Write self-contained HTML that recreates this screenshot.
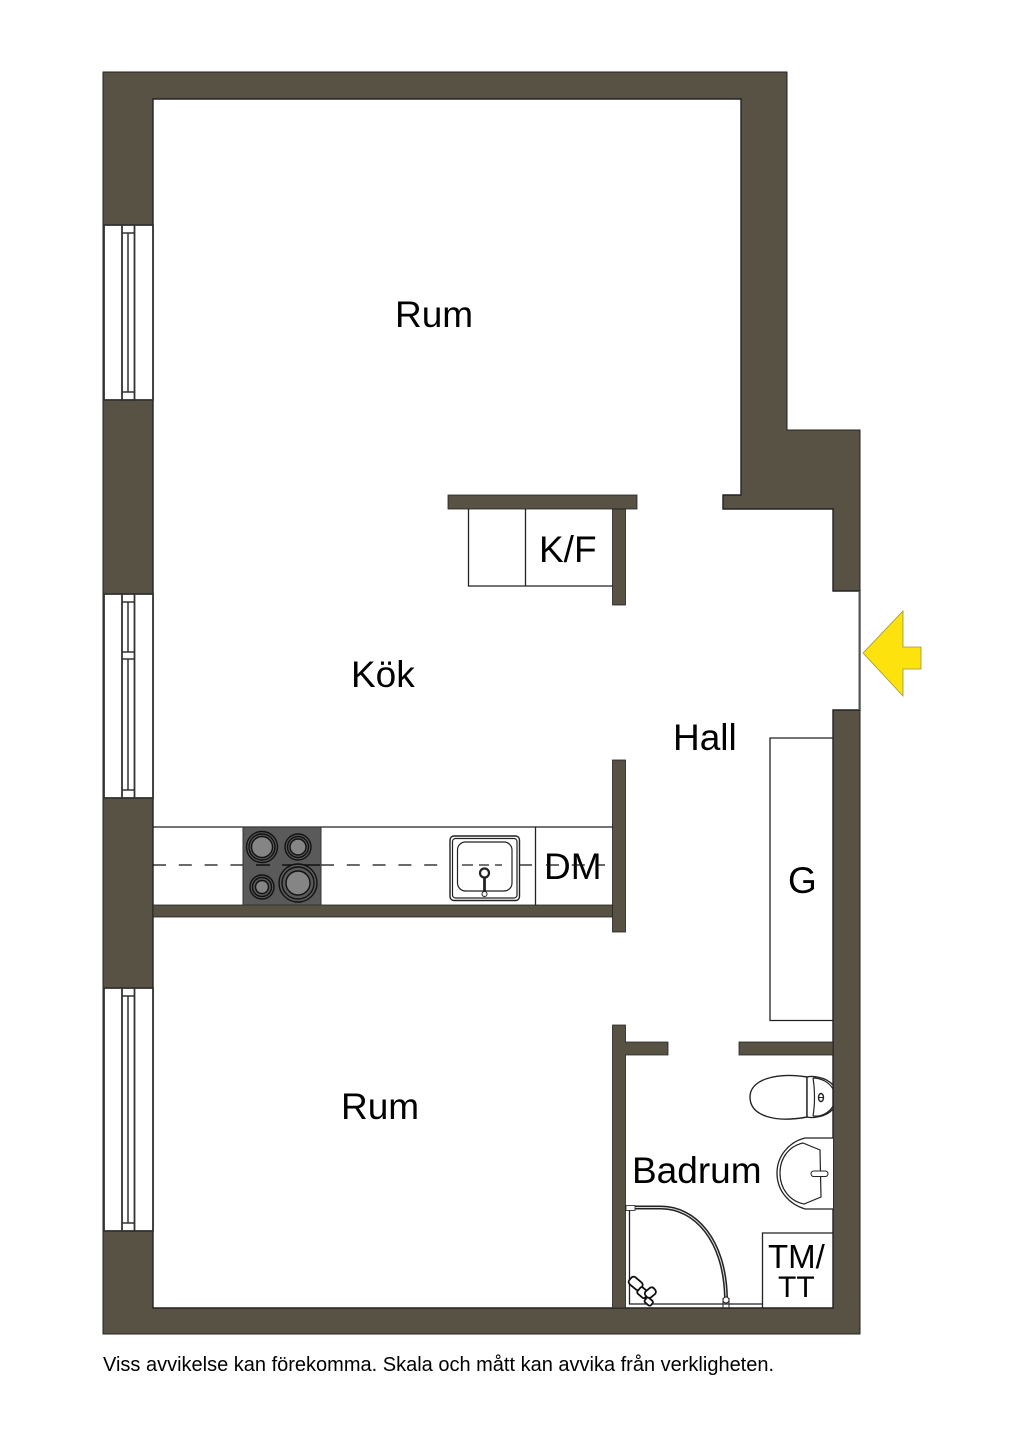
<!DOCTYPE html>
<html><head><meta charset="utf-8"><style>
html,body{margin:0;padding:0;background:#fff}
svg{display:block}
text{font-family:"Liberation Sans",sans-serif;fill:#000}
</style></head><body>
<svg width="1024" height="1448" viewBox="0 0 1024 1448" xmlns="http://www.w3.org/2000/svg">
<rect width="1024" height="1448" fill="#fff"/>
<!-- outer wall -->
<path d="M103 72H787V430H860V1334H103Z" fill="#575244" stroke="#222" stroke-width="1"/>
<!-- interior -->
<path d="M153 99H741V495H723V509H833V591H860V710H833V1308H153Z" fill="#fff" stroke="#222" stroke-width="1.400"/>
<path d="M859.500 591V710" stroke="#555" stroke-width="2"/>
<!-- inner walls -->
<g fill="#575244" stroke="#222" stroke-width="0.800">
<rect x="153" y="905" width="460" height="12"/>
<rect x="612.500" y="760" width="13" height="172"/>
<path d="M612.500 1025H625.500V1042H668V1055H625.500V1308H612.500Z"/>
<rect x="739" y="1042" width="94" height="13"/>
<rect x="448" y="495" width="189" height="14"/>
<rect x="612.500" y="509" width="13" height="96"/>
</g>
<!-- windows -->
<g fill="#fff" stroke="#333" stroke-width="1.800">
<rect x="104" y="225" width="49" height="175"/>
<rect x="104" y="594" width="49" height="204"/>
<rect x="104" y="988" width="49" height="243"/>
<rect x="122" y="225" width="12.500" height="175"/>
<rect x="122" y="594" width="12.500" height="204"/>
<rect x="122" y="988" width="12.500" height="243"/>
</g>
<g fill="none" stroke="#333" stroke-width="1.500">
<path d="M122 233H134.500M128 233V392M122 392H134.500"/>
<path d="M122 602H134.500M128 602V652M122 652H134.500M122 659H134.500M128 659V790M122 790H134.500"/>
<path d="M122 996H134.500M128 996V1223M122 1223H134.500"/>
</g>
<!-- kitchen counter -->
<g fill="none" stroke="#222" stroke-width="1.300">
<path d="M153 827H612.500"/>
<path d="M535.500 827V905"/>
<path d="M468.500 509V586H612.500M525.500 509V586"/>
<path d="M833 738H770V1020.500H833"/>
<path d="M762.500 1308V1233H833"/>
</g>
<path d="M153 865H243M321 865H450M519 865H535.500" fill="none" stroke="#111" stroke-width="1.300" stroke-dasharray="13 12.800"/>
<!-- hob -->
<rect x="243" y="827" width="78" height="78" fill="#5a5a5a" stroke="#333"/>
<path d="M256 865H270M282 865H320" stroke="#111" stroke-width="1.400"/>
<g stroke="#111" stroke-width="1.400">
<circle cx="262" cy="847" r="15.500" fill="#5a5a5a"/><circle cx="262" cy="847" r="13" fill="#5a5a5a"/><circle cx="262" cy="847" r="10.500" fill="#858585"/>
<circle cx="298" cy="847" r="13" fill="#5a5a5a"/><circle cx="298" cy="847" r="10.500" fill="#5a5a5a"/><circle cx="298" cy="847" r="8" fill="#858585"/>
<circle cx="262" cy="887" r="12" fill="#5a5a5a"/><circle cx="262" cy="887" r="9.500" fill="#5a5a5a"/><circle cx="262" cy="887" r="6.500" fill="#858585"/>
<circle cx="298" cy="883" r="19" fill="#5a5a5a"/><circle cx="298" cy="883" r="16" fill="#5a5a5a"/><circle cx="298" cy="883" r="12" fill="#858585"/>
</g>
<!-- sink -->
<rect x="450" y="836" width="69.500" height="64.500" rx="4" fill="#fff" stroke="#222" stroke-width="1.400"/>
<rect x="452.500" y="838.500" width="64.500" height="59.500" rx="3" fill="#fff" stroke="#222" stroke-width="1.200"/>
<rect x="457.500" y="842" width="54.500" height="49" rx="8" fill="none" stroke="#222" stroke-width="1.200"/>
<path d="M462 865H473M479 865H489M495 865H502" stroke="#222" stroke-width="1.300"/>
<path d="M484.500 875V892" stroke="#222" stroke-width="2.800"/>
<circle cx="484.500" cy="873" r="4.500" fill="#fff" stroke="#222" stroke-width="2.200"/>
<circle cx="484.500" cy="894" r="2.500" fill="#fff" stroke="#222" stroke-width="1"/>
<!-- toilet -->
<path d="M807 1077C775 1072 750 1080 750 1097C750 1116 775 1123 807 1117Z" fill="#fff" stroke="#222" stroke-width="1.400"/>
<path d="M807 1077C811 1076 825 1076 833 1085V1109C825 1118 811 1118 807 1117Z" fill="#fff" stroke="#222" stroke-width="1.400"/>
<path d="M813 1078C815 1090 815 1105 813 1116M813 1078C821 1078 829 1082 833 1089M813 1116C821 1117 829 1113 833 1106" fill="none" stroke="#222" stroke-width="1.200"/>
<ellipse cx="821" cy="1097.500" rx="2.500" ry="4" fill="#fff" stroke="#222" stroke-width="1.400"/>
<path d="M819 1097.500H823" stroke="#222"/>
<!-- basin -->
<path d="M833 1138H805C789 1142 777 1156 777 1173C777 1191 789 1204 805 1209H833" fill="#fff" stroke="#222" stroke-width="1.300"/>
<path d="M803 1143L820 1150L821 1197L804 1204C789 1201 780 1188 780 1173C780 1158 789 1146 803 1143Z" fill="#fff" stroke="#222" stroke-width="1.200"/>
<rect x="811" y="1171" width="17" height="5.500" rx="2.700" fill="#fff" stroke="#222"/>
<!-- shower -->
<path d="M628 1207.500H660C695 1207 725 1240 726 1298" fill="none" stroke="#222" stroke-width="4"/>
<path d="M628 1207.500H660C695 1207 725 1240 726 1298" fill="none" stroke="#ddd" stroke-width="1"/>
<rect x="626" y="1205.500" width="9" height="5" fill="#fff" stroke="#222" stroke-width=".8"/>
<path d="M629.500 1210V1304H762" fill="none" stroke="#222" stroke-width="1.300"/>
<path d="M723 1298V1308M729 1298V1308" stroke="#222" fill="none"/>
<circle cx="726" cy="1300" r="3" fill="#fff" stroke="#222"/>
<g fill="#fff" stroke="#111" stroke-width="1.800">
<rect x="629" y="1279" width="14" height="9" rx="3" transform="rotate(40 636 1283)"/>
<rect x="638" y="1288" width="10" height="8" rx="2" transform="rotate(40 642 1292)"/>
<rect x="645" y="1289" width="11" height="8" rx="3" transform="rotate(-40 650 1293)"/>
<rect x="645" y="1298" width="8" height="6" rx="2" transform="rotate(40 648 1301)"/>
</g>
<!-- arrow -->
<path d="M863 653L903 611V647H921V669H903V696Z" fill="#fde20e" stroke="#9c9238" stroke-width="0.800"/>
<!-- labels -->
<g font-size="37">
<text x="395" y="327">Rum</text>
<text x="351" y="687">Kök</text>
<text x="673" y="750">Hall</text>
<text x="341" y="1119">Rum</text>
<text x="632" y="1183">Badrum</text>
<text x="539" y="562">K/F</text>
<text x="544" y="879">DM</text>
<text x="788" y="893">G</text>
</g>
<text x="768" y="1268" font-size="33">TM/</text>
<text x="778" y="1297" font-size="30">TT</text>
<path d="M546 865H605" stroke="#111" stroke-width="1.300" stroke-dasharray="13 12.800"/>
<text x="103" y="1371" font-size="20">Viss avvikelse kan förekomma. Skala och mått kan avvika från verkligheten.</text>
</svg>
</body></html>
